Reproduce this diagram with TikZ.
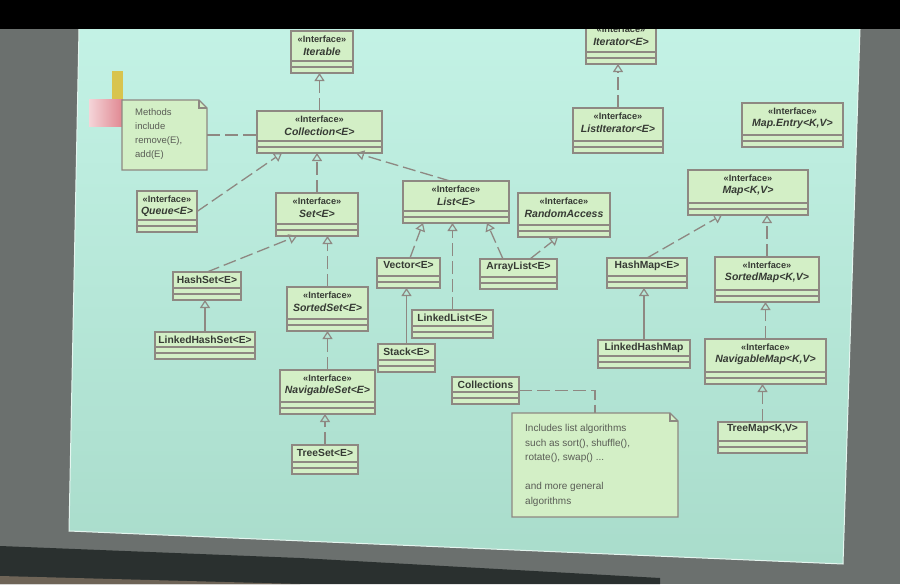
\documentclass[tikz,border=0pt]{standalone}
\usepackage{fontspec}
\setmainfont{Liberation Sans}
\usetikzlibrary{calc,arrows.meta}
\definecolor{wallgray}{HTML}{6B706E}
\definecolor{screentop}{HTML}{C3F2E5}
\definecolor{screenbot}{HTML}{A9DCCB}
\definecolor{boxfill}{HTML}{D3EFC6}
\definecolor{boxline}{HTML}{8E8882}
\definecolor{inkcol}{HTML}{363A34}
\definecolor{notetext}{HTML}{5A5D56}
\definecolor{stickyyellow}{HTML}{D8C44E}
\definecolor{stickypink}{HTML}{E08690}
\definecolor{floordark}{HTML}{2A302F}
\definecolor{floorbrown}{HTML}{6E6457}

\tikzset{
  umlbox/.style={draw=boxline, fill=boxfill, line width=1.3pt, inner sep=0pt, outer sep=0pt, rectangle},
  notebox/.style={inner sep=0pt, outer sep=0pt, rectangle},
  notedraw/.style={draw=boxline, fill=boxfill, line width=1.3pt, line join=miter},
  cmpline/.style={draw=boxline, line width=1.1pt},
  stereo/.style={text=inkcol, font=\fontsize{9.2}{10}\selectfont\bfseries, inner sep=0pt},
  ititle/.style={text=inkcol, font=\fontsize{10.5}{12}\selectfont\bfseries\itshape, inner sep=0pt},
  ctitle/.style={text=inkcol, font=\fontsize{10.3}{12}\selectfont\bfseries, inner sep=0pt},
  conn/.style={draw=boxline, line width=1.3pt},
  realize/.style={conn, dash pattern=on 13pt off 5pt, -{Triangle[open, length=8pt, width=10pt, line width=1.2pt]}},
  extend/.style={conn, -{Triangle[open, length=8pt, width=10pt, line width=1.2pt]}},
  notelink/.style={conn, dash pattern=on 13pt off 5pt},
}

\newcommand{\umlIface}[6]{%
  \node[umlbox, anchor=north west, minimum width={(#4-#2)*1pt}, minimum height={(#5-#3)*1pt}] (#1) at (#2,#3) {};
  \draw[cmpline] ($(#1.south west)+(0,-12)$) -- ($(#1.south east)+(0,-12)$);
  \draw[cmpline] ($(#1.south west)+(0,-6)$) -- ($(#1.south east)+(0,-6)$);
  \node[stereo] (#1-s) at ($(#1.north)+(0,8.5)$) {«Interface»};
  \node[ititle] (#1-t) at ($(#1.north)+(0,20.5)$) {#6};
}
\newcommand{\umlClass}[6]{%
  \node[umlbox, anchor=north west, minimum width={(#4-#2)*1pt}, minimum height={(#5-#3)*1pt}] (#1) at (#2,#3) {};
  \draw[cmpline] ($(#1.south west)+(0,-12)$) -- ($(#1.south east)+(0,-12)$);
  \draw[cmpline] ($(#1.south west)+(0,-6)$) -- ($(#1.south east)+(0,-6)$);
  \node[ctitle] (#1-t) at ($(#1.north)+(0,7.5)$) {#6};
}
\newcommand{\umlNote}[5]{%
  \node[notebox, anchor=north west, minimum width={(#4-#2)*1pt}, minimum height={(#5-#3)*1pt}] (#1) at (#2,#3) {};
  \draw[notedraw] (#1.south west) -- (#1.north west) -- ($(#1.north east)+(-8,0)$) -- ($(#1.north east)+(0,8)$) -- (#1.south east) -- cycle;
  \draw[cmpline] ($(#1.north east)+(-8,0)$) -- ($(#1.north east)+(-8,8)$) -- ($(#1.north east)+(0,8)$);
}

\begin{document}
\begin{tikzpicture}[x=1pt,y=-1pt]
\useasboundingbox (0,0) rectangle (900,584);
% room and screen
\fill[wallgray] (0,0) rectangle (900,584);
\fill[floordark] (0,546) -- (300,558) -- (660,578) -- (660,584) -- (0,584) -- cycle;
\fill[floorbrown] (0,576) -- (300,584) -- (0,584) -- cycle;
\shade[top color=screentop, bottom color=screenbot] (79,29) -- (860,29) -- (843,564) -- (69,531) -- cycle;
\draw[white!70!screenbot, line width=1pt] (860,29) -- (843,564) -- (69,531) -- (79,29);

% sticky notes on the screen
\fill[stickyyellow] (112,71) rectangle (123,99);
\shade[left color=stickypink!35!white, right color=stickypink] (89,99) rectangle (123,126);

% interfaces
\umlIface{iterable}{291}{31}{353}{73}{Iterable}
\umlIface{iterator}{586}{21}{656}{64}{Iterator<E>}
\umlIface{listit}{573}{108}{663}{153}{ListIterator<E>}
\umlIface{coll}{257}{111}{382}{153}{Collection<E>}
\umlIface{queue}{137}{191}{197}{232}{Queue<E>}
\umlIface{set}{276}{193}{358}{236}{Set<E>}
\umlIface{list}{403}{181}{509}{223}{List<E>}
\umlIface{randacc}{518}{193}{610}{237}{RandomAccess}
\umlIface{mapentry}{742}{103}{843}{147}{Map.Entry<K,V>}
\umlIface{map}{688}{170}{808}{215}{Map<K,V>}
\umlIface{sortedset}{287}{287}{368}{331}{SortedSet<E>}
\umlIface{navset}{280}{370}{375}{414}{NavigableSet<E>}
\umlIface{sortedmap}{715}{257}{819}{302}{SortedMap<K,V>}
\umlIface{navmap}{705}{339}{826}{384}{NavigableMap<K,V>}

% classes
\umlClass{hashset}{173}{272}{241}{300}{HashSet<E>}
\umlClass{lhset}{155}{332}{255}{359}{LinkedHashSet<E>}
\umlClass{vector}{377}{258}{440}{288}{Vector<E>}
\umlClass{arraylist}{480}{259}{557}{289}{ArrayList<E>}
\umlClass{linkedlist}{412}{310}{493}{338}{LinkedList<E>}
\umlClass{stack}{378}{344}{435}{372}{Stack<E>}
\umlClass{hashmap}{607}{258}{687}{288}{HashMap<E>}
\umlClass{lhmap}{598}{340}{690}{368}{LinkedHashMap}
\umlClass{treeset}{292}{445}{358}{474}{TreeSet<E>}
\umlClass{treemap}{718}{422}{807}{453}{TreeMap<K,V>}
\umlClass{collections}{452}{377}{519}{404}{Collections}

% notes
\umlNote{note1}{122}{100}{207}{170}
\node[anchor=north west, text=notetext, align=left, inner sep=0pt,
      font=\fontsize{9.5}{14}\selectfont] (note1-t) at ($(note1.north west)+(13,8)$)
  {Methods\\include\\remove(E),\\add(E)};
\umlNote{note2}{512}{413}{678}{517}
\node[anchor=north west, text=notetext, align=left, inner sep=0pt,
      font=\fontsize{10}{14.6}\selectfont] (note2-t) at ($(note2.north west)+(13,11)$)
  {Includes list algorithms\\such as sort(), shuffle(),\\rotate(), swap() ...\\[14.6pt]and more general\\algorithms};

% connectors
\draw[realize] (coll.north) -- (coll.north |- iterable.south);
\draw[realize] (listit.north) -- (listit.north |- iterator.south);
\draw[realize] (queue.east) -- ($(coll.south west)+(25,0)$);
\draw[realize] (set.north) -- (set.north |- coll.south);
\draw[realize] ($(list.north)+(-6,0)$) -- ($(coll.south east)+(-26,0)$);
\draw[notelink] (note1.east) -- (note1.east -| coll.west);
\draw[realize] (hashset.north) -- ($(set.south west)+(21,0)$);
\draw[extend] (lhset.north) -- (lhset.north |- hashset.south);
\draw[realize] (sortedset.north) -- (sortedset.north |- set.south);
\draw[realize] (navset.north) -- (navset.north |- sortedset.south);
\draw[realize] (treeset.north) -- (treeset.north |- navset.south);
\draw[realize] ($(vector.north)+(1.5,0)$) -- ($(list.south west)+(20,0)$);
\draw[realize] (linkedlist.north) -- (linkedlist.north |- list.south);
\draw[realize] ($(arraylist.north west)+(23,0)$) -- ($(list.south east)+(-22,0)$);
\draw[realize] ($(arraylist.north east)+(-27,0)$) -- ($(randacc.south)+(-6,0)$);
\draw[extend] (stack.north) -- (stack.north |- vector.south);
\draw[realize] (hashmap.north) -- ($(map.south west)+(34,0)$);
\draw[extend] (lhmap.north) -- (lhmap.north |- hashmap.south);
\draw[realize] (sortedmap.north) -- (sortedmap.north |- map.south);
\draw[realize] (navmap.north) -- (navmap.north |- sortedmap.south);
\draw[realize] (treemap.north) -- (treemap.north |- navmap.south);
\draw[notelink] (collections.east) -| (note2.north);

% black band at the top
\fill[black] (0,0) rectangle (900,29);
\end{tikzpicture}
\end{document}
